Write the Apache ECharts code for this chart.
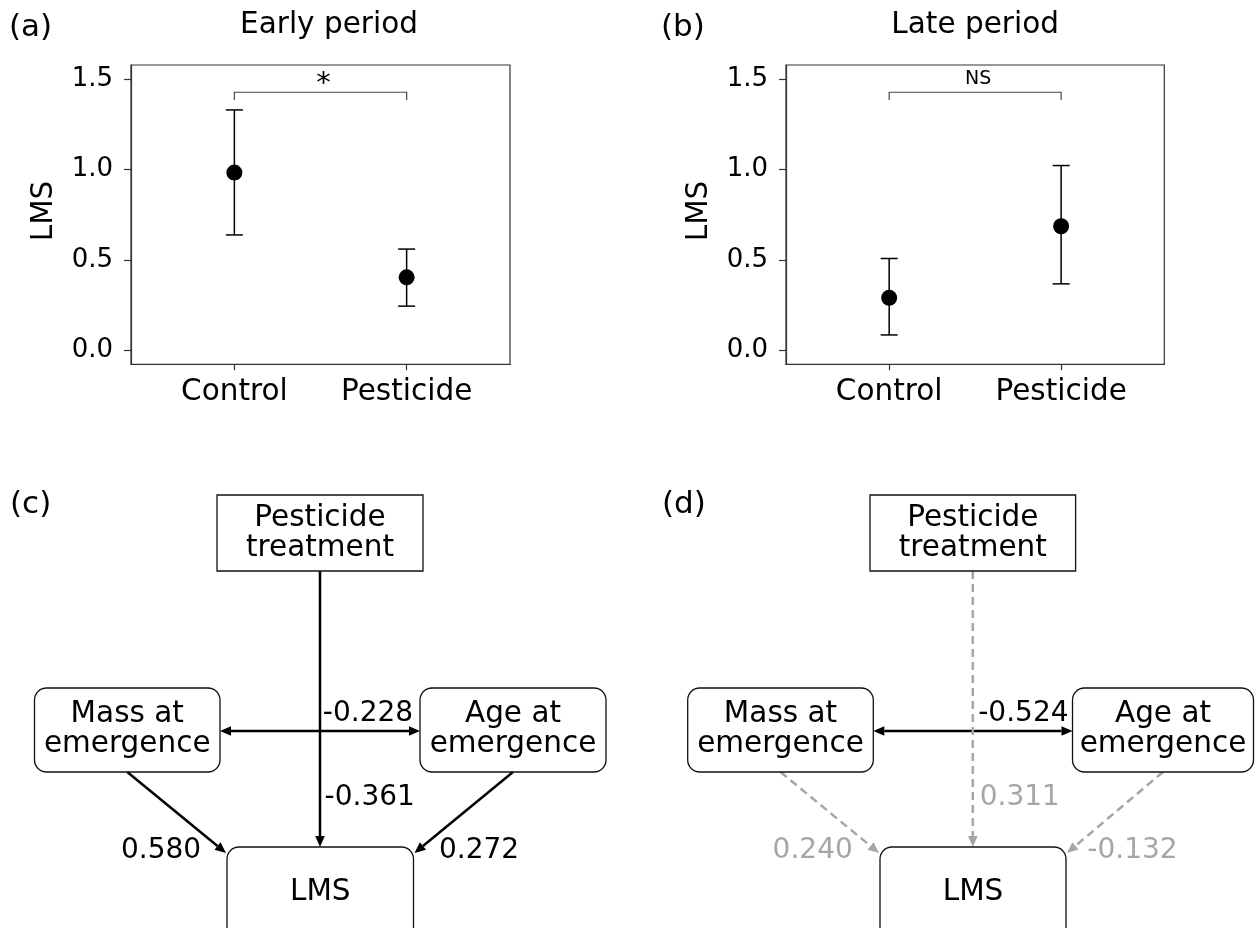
<!DOCTYPE html>
<html>
<head>
<meta charset="utf-8">
<script src="https://cdn.jsdelivr.net/npm/echarts@6/dist/echarts.min.js"></script>
<style>
html,body{margin:0;padding:0;background:#fff;}
#chart{width:1255px;height:928px;}
</style>
</head>
<body>
<div id="chart"></div>
<script>
// ---------- data ----------
const panelTags = ['(a)', '(b)', '(c)', '(d)'];
const periodTitles = ['Early period', 'Late period'];
const categories = ['Control', 'Pesticide'];
const yTicks = [0, 0.5, 1.0, 1.5];

const earlyMean = [0.983, 0.405];
const earlyLow  = [0.639, 0.246];
const earlyHigh = [1.329, 0.561];

const lateMean = [0.292, 0.687];
const lateLow  = [0.087, 0.369];
const lateHigh = [0.509, 1.022];

const sigLabels = ['*', 'NS'];
const bracketTop = [1.4265, 1.4265];
const bracketDrop = [1.384, 1.384];

const nodeNames = ['Pesticide\ntreatment', 'Mass at\nemergence', 'Age at\nemergence', 'LMS'];
// path order: Mass<->Age, Pesticide->LMS, Mass->LMS, Age->LMS
const coefEarly = [-0.228, -0.361, 0.580, 0.272];
const coefLate  = [-0.524, 0.311, 0.240, -0.132];
const sigEarly  = [true, true, true, true];
const sigLate   = [true, false, false, false];

// ---------- style / layout ----------
const FONT = "'DejaVu Sans', Verdana, sans-serif";
const BLACK = '#000';
const GRAY = '#a6a6a6';
const FRAME = '#333';
const TXT = 29.5;

const grids = [
  {left: 131, top: 65, width: 379, height: 299.3},
  {left: 786, top: 65, width: 378.3, height: 299.3}
];
const sigOffset = [-8, -13];
const sigFont = [29, 19];

const diagLayouts = [
  {
    boxes: [
      {x: 217, y: 495, w: 206, h: 76, r: 0},
      {x: 34.5, y: 688, w: 185.5, h: 84, r: 12},
      {x: 420, y: 688, w: 186, h: 84, r: 12},
      {x: 227, y: 847, w: 186.5, h: 110, r: 12}
    ],
    labels: [[368, 714], [369.7, 798], [161, 851], [479, 851]]
  },
  {
    boxes: [
      {x: 870, y: 495, w: 205.6, h: 76, r: 0},
      {x: 687.7, y: 688, w: 185.6, h: 84, r: 12},
      {x: 1072.5, y: 688, w: 181, h: 84, r: 12},
      {x: 880, y: 847, w: 186, h: 110, r: 12}
    ],
    labels: [[1023.4, 714], [1019.8, 798], [812.7, 851], [1132.5, 851]]
  }
];

// ---------- helpers ----------
function errRender(params, api) {
  const x = api.value(0), lo = api.value(1), hi = api.value(2);
  const a = api.coord([x, lo]), b = api.coord([x, hi]);
  const cw = 8.5;
  const st = {stroke: BLACK, lineWidth: 1.5};
  return {type: 'group', children: [
    {type: 'line', shape: {x1: a[0], y1: a[1], x2: b[0], y2: b[1]}, style: st},
    {type: 'line', shape: {x1: a[0] - cw, y1: a[1], x2: a[0] + cw, y2: a[1]}, style: st},
    {type: 'line', shape: {x1: b[0] - cw, y1: b[1], x2: b[0] + cw, y2: b[1]}, style: st}
  ]};
}

function bracketRender(idx) {
  return function (params, api) {
    const x1 = api.value(0), x2 = api.value(1), top = api.value(2), drop = api.value(3);
    const p1 = api.coord([x1, drop]), p2 = api.coord([x1, top]);
    const p3 = api.coord([x2, top]), p4 = api.coord([x2, drop]);
    return {type: 'group', children: [
      {type: 'polyline', shape: {points: [p1, p2, p3, p4]},
       style: {stroke: '#444', lineWidth: 1.2, fill: null}},
      {type: 'text', style: {
        text: sigLabels[idx], x: (p2[0] + p3[0]) / 2 + 3, y: p2[1] + sigOffset[idx],
        font: sigFont[idx] + 'px ' + FONT, fill: BLACK,
        align: 'center', verticalAlign: 'middle', textAlign: 'center', textVerticalAlign: 'middle'
      }}
    ]};
  };
}

function arrowEls(x1, y1, x2, y2, color, dashed, both) {
  const dx = x2 - x1, dy = y2 - y1, len = Math.hypot(dx, dy);
  const ux = dx / len, uy = dy / len;
  const L = 11, W = 4.8;
  const els = [];
  const sx = both ? x1 + ux * L : x1, sy = both ? y1 + uy * L : y1;
  const ex = x2 - ux * L, ey = y2 - uy * L;
  els.push({type: 'line', shape: {x1: sx, y1: sy, x2: ex, y2: ey},
    style: {stroke: color, lineWidth: 2.5, lineDash: dashed ? [8, 5] : null}});
  function head(tx, ty, vx, vy) {
    const bx = tx - vx * L, by = ty - vy * L;
    return {type: 'polygon', shape: {points: [[tx, ty], [bx - vy * W, by + vx * W], [bx + vy * W, by - vx * W]]},
      style: {fill: color}};
  }
  els.push(head(x2, y2, ux, uy));
  if (both) els.push(head(x1, y1, -ux, -uy));
  return els;
}

function textEl(txt, x, y, size, color, align, extra) {
  return Object.assign({type: 'text', x: x, y: y, style: {
    text: txt, x: 0, y: 0, font: size + 'px ' + FONT, fill: color,
    align: align || 'center', verticalAlign: 'middle',
    textAlign: align || 'center', textVerticalAlign: 'middle', lineHeight: 30
  }}, extra || {});
}

function diagram(layout, coefs, sig) {
  const B = layout.boxes;
  const els = [];
  const pest = B[0], mass = B[1], age = B[2], lms = B[3];
  const col = s => (s ? BLACK : GRAY);
  const vx = pest.x + pest.w / 2;
  const hy = mass.y + mass.h / 2 + 1;
  els.push(...arrowEls(mass.x + mass.w, hy, age.x, hy, col(sig[0]), !sig[0], true));
  els.push(...arrowEls(vx, pest.y + pest.h, vx, lms.y, col(sig[1]), !sig[1], false));
  els.push(...arrowEls(mass.x + mass.w / 2, mass.y + mass.h, lms.x - 1, lms.y + 6, col(sig[2]), !sig[2], false));
  els.push(...arrowEls(age.x + age.w / 2, age.y + age.h, lms.x + lms.w + 1, lms.y + 6, col(sig[3]), !sig[3], false));
  B.forEach((b, i) => {
    els.push({type: 'rect', shape: {x: b.x, y: b.y, width: b.w, height: b.h, r: b.r},
      style: {fill: 'rgba(255,255,255,0)', stroke: '#111', lineWidth: 1.3}, z: 5});
    const cy = i === 3 ? b.y + 45 : b.y + b.h / 2 - (i === 0 ? 0 : 1);
    els.push(textEl(nodeNames[i], b.x + b.w / 2, cy, TXT, BLACK, 'center', {z: 6}));
  });
  coefs.forEach((c, i) => {
    const p = layout.labels[i];
    els.push(textEl(c.toFixed(3), p[0], p[1], 28, col(sig[i]), 'center', {z: 6}));
  });
  return els;
}

// ---------- option ----------
const panelData = [
  {mean: earlyMean, low: earlyLow, high: earlyHigh},
  {mean: lateMean, low: lateLow, high: lateHigh}
];

const option = {
  animation: false,
  backgroundColor: '#fff',
  textStyle: {fontFamily: FONT},
  grid: grids.map(g => Object.assign({show: true, borderColor: FRAME, borderWidth: 1.2,
    backgroundColor: '#fff', containLabel: false, outerBoundsMode: 'none'}, g)),
  xAxis: grids.map((g, i) => ({
    type: 'value', gridIndex: i, min: 0.4, max: 2.6,
    axisLine: {show: true, onZero: false, lineStyle: {color: FRAME, width: 1.2}},
    splitLine: {show: false},
    axisTick: {show: true, length: 6, customValues: [1, 2], lineStyle: {color: FRAME, width: 1.2}},
    axisLabel: {customValues: [1, 2], formatter: v => categories[Math.round(v) - 1],
      fontSize: TXT, color: BLACK, margin: 13, fontFamily: FONT}
  })),
  yAxis: grids.map((g, i) => ({
    type: 'value', gridIndex: i, min: -0.075, max: 1.577,
    axisLine: {show: true, onZero: false, lineStyle: {color: FRAME, width: 1.2}},
    splitLine: {show: false},
    axisTick: {show: true, length: 7, customValues: yTicks, lineStyle: {color: FRAME, width: 1.2}},
    axisLabel: {customValues: yTicks, formatter: v => v.toFixed(1),
      fontSize: 26, color: BLACK, margin: 18, fontFamily: FONT}
  })),
  series: [],
  graphic: {elements: []}
};

panelData.forEach((d, i) => {
  option.series.push({
    type: 'custom', xAxisIndex: i, yAxisIndex: i, z: 2,
    renderItem: errRender,
    encode: {x: 0, y: [1, 2]},
    data: categories.map((c, k) => [k + 1, d.low[k], d.high[k]])
  });
  option.series.push({
    type: 'scatter', xAxisIndex: i, yAxisIndex: i, z: 3,
    symbol: 'circle', symbolSize: 16,
    itemStyle: {color: BLACK, opacity: 1},
    data: categories.map((c, k) => [k + 1, d.mean[k]])
  });
  option.series.push({
    type: 'custom', xAxisIndex: i, yAxisIndex: i, z: 2,
    renderItem: bracketRender(i),
    encode: {x: [0, 1], y: [2, 3]},
    data: [[1, 2, bracketTop[i], bracketDrop[i]]]
  });
});

const G = option.graphic.elements;
G.push(textEl(panelTags[0], 9, 28, 31, BLACK, 'left'));
G.push(textEl(panelTags[1], 661, 28, 31, BLACK, 'left'));
G.push(textEl(panelTags[2], 10, 505, 31, BLACK, 'left'));
G.push(textEl(panelTags[3], 662, 505, 31, BLACK, 'left'));
G.push(textEl(periodTitles[0], 329, 25, TXT, BLACK, 'center'));
G.push(textEl(periodTitles[1], grids[1].left + grids[1].width / 2, 25, TXT, BLACK, 'center'));
grids.forEach(g => {
  G.push(textEl('LMS', g.left - 87, 211, TXT, BLACK, 'center', {rotation: Math.PI / 2}));
});
G.push(...diagram(diagLayouts[0], coefEarly, sigEarly));
G.push(...diagram(diagLayouts[1], coefLate, sigLate));

const chart = echarts.init(document.getElementById('chart'), null, {renderer: 'canvas'});
chart.setOption(option);
</script>
</body>
</html>
